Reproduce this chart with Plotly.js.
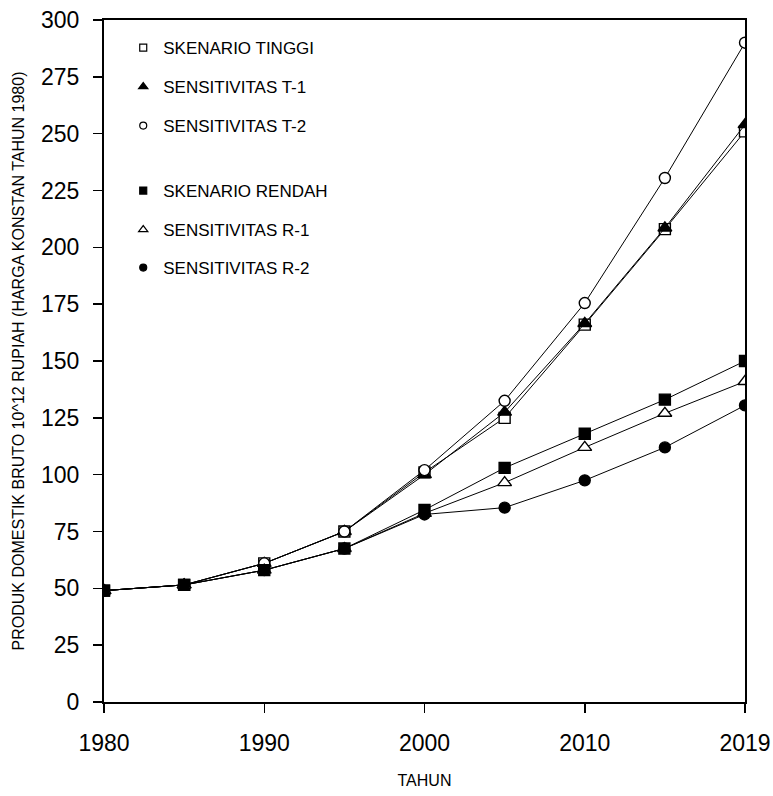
<!DOCTYPE html>
<html>
<head>
<meta charset="utf-8">
<script src="https://cdn.plot.ly/plotly-3.0.1.min.js"></script>
<style>html,body{margin:0;padding:0;background:#fff;}#chart{width:773px;height:796px;}</style>
</head>
<body>
<div id="chart"></div>
<script>
const years = ['1980','1985','1990','1995','2000','2005','2010','2015','2019'];
const tickYears = ['1980','1990','2000','2010','2019'];
const skenarioTinggi   = [49, 51.5, 61, 75, 101, 125, 166, 208, 251];
const sensitivitasT1   = [49, 51.5, 61, 75, 100, 127.5, 166.5, 208.5, 254];
const sensitivitasT2   = [49, 51.5, 61, 75, 102, 132.5, 175.5, 230.5, 290];
const skenarioRendah   = [49, 51.5, 58, 67.5, 84.5, 103, 118, 133, 150];
const sensitivitasR1   = [49, 51.5, 58, 67.5, 83, 96.5, 112, 127, 141];
const sensitivitasR2   = [49, 51.5, 58, 67.5, 82.5, 85.5, 97.5, 112, 130.5];
const seriesNames = ['SKENARIO TINGGI','SENSITIVITAS T-1','SENSITIVITAS T-2','SKENARIO RENDAH','SENSITIVITAS R-1','SENSITIVITAS R-2'];
const seriesValues = [skenarioTinggi, sensitivitasT1, sensitivitasT2, skenarioRendah, sensitivitasR1, sensitivitasR2];
const symbols = ['square','triangle-up','circle','square','triangle-up','circle'];
const fills = ['#fff','#000','#fff','#000','#fff','#000'];
const plotSizes = [11, 12, 11, 11, 12, 11];
const legendSizes = [7, 8, 7, 7, 8, 7];
// legend row centres in pixels from top of figure
const legendRows = [48, 87, 126, 191, 230, 268];

const sans = '"Liberation Sans", Arial, sans-serif';
const W = 773, H = 796, ML = 104, MR = 28, MT = 20, MB = 94;
const plotH = H - MT - MB;

const data = [];
seriesValues.forEach((vals, i) => {
  data.push({
    x: years, y: vals, name: seriesNames[i], type: 'scatter', mode: 'lines+markers',
    showlegend: false,
    line: {color: '#000', width: 1},
    marker: {symbol: symbols[i], size: plotSizes[i], color: fills[i], line: {color: '#000', width: 1.4}}
  });
});
seriesValues.forEach((vals, i) => {
  data.push({
    x: [null], y: [null], name: seriesNames[i], type: 'scatter', mode: 'markers',
    showlegend: true, legend: i === 0 ? 'legend' : 'legend' + (i + 1),
    marker: {symbol: symbols[i], size: legendSizes[i], color: fills[i], line: {color: '#000', width: 1.2}}
  });
});

const layout = {
  width: W, height: H,
  margin: {l: ML, r: MR, t: MT, b: MB},
  paper_bgcolor: '#fff', plot_bgcolor: '#fff',
  showlegend: true,
  xaxis: {
    type: 'category', categoryorder: 'array', categoryarray: years,
    range: [0, 8], tickmode: 'array', tickvals: tickYears, ticktext: tickYears,
    showline: true, linecolor: '#000', linewidth: 2, mirror: true,
    ticks: 'outside', ticklen: 9, tickwidth: 1.5, tickcolor: '#000',
    ticklabelstandoff: 10,
    showgrid: false, zeroline: false,
    tickfont: {family: sans, size: 23, color: '#000'},
    title: {text: 'TAHUN', font: {family: sans, size: 16, color: '#000'}, standoff: 20}
  },
  yaxis: {
    range: [0, 300], tickmode: 'linear', tick0: 0, dtick: 25,
    showline: true, linecolor: '#000', linewidth: 2, mirror: true,
    ticks: 'outside', ticklen: 9, tickwidth: 1.5, tickcolor: '#000',
    ticklabelstandoff: 9,
    showgrid: false, zeroline: false,
    tickfont: {family: sans, size: 23, color: '#000'},
    title: {text: 'PRODUK DOMESTIK BRUTO 10^12 RUPIAH (HARGA KONSTAN TAHUN 1980)', font: {family: sans, size: 16, color: '#000'}, standoff: 12}
  }
};
legendRows.forEach((py, i) => {
  const key = i === 0 ? 'legend' : 'legend' + (i + 1);
  layout[key] = {
    x: 0.03, y: 1 - (py - MT) / plotH, xanchor: 'left', yanchor: 'middle',
    bgcolor: 'rgba(0,0,0,0)', borderwidth: 0, itemsizing: 'trace',
    font: {family: sans, size: 17, color: '#000'}
  };
});
Plotly.newPlot('chart', data, layout, {displayModeBar: false, staticPlot: true});
</script>
</body>
</html>
